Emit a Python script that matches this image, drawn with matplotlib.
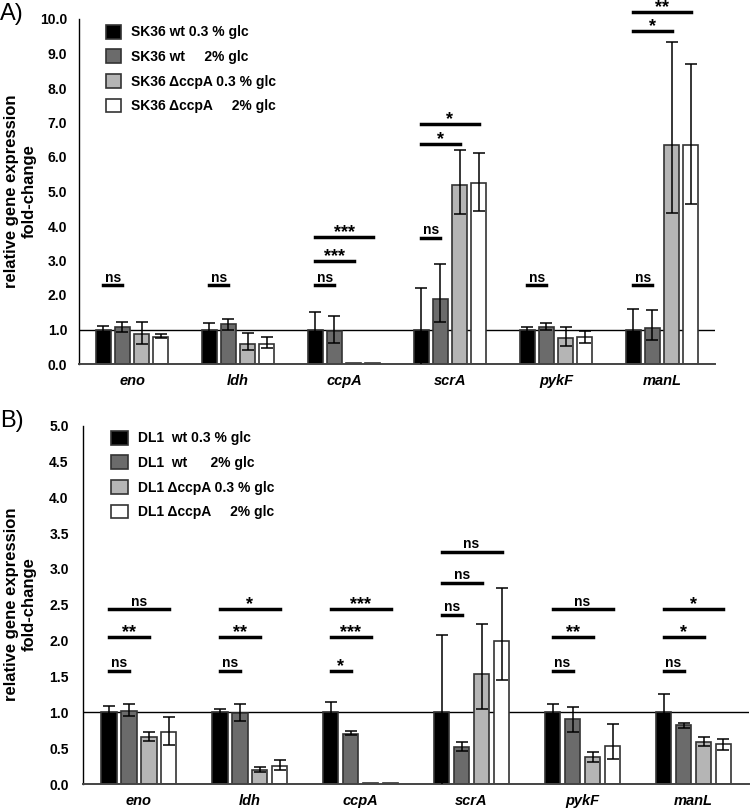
import matplotlib
matplotlib.use("Agg")
import matplotlib.pyplot as plt
import numpy as np

plt.rcParams['font.family'] = ['Liberation Sans', 'DejaVu Sans']

genes = ['eno', 'ldh', 'ccpA', 'scrA', 'pykF', 'manL']

# panel A: SK36, values and lower / upper error
a_labels = ['SK36 wt 0.3 % glc', 'SK36 wt     2% glc',
            'SK36 \u0394ccpA 0.3 % glc', 'SK36 \u0394ccpA     2% glc']
a_wt03 = [1.0, 1.0, 1.0, 1.0, 1.0, 1.0]
a_wt03_err = [0.10, 0.18, 0.51, 1.21, 0.07, 0.60]
a_wt2 = [1.07, 1.15, 0.96, 1.89, 1.07, 1.04]
a_wt2_lo = [0.13, 0.15, 0.35, 0.67, 0.09, 0.34]
a_wt2_hi = [0.16, 0.16, 0.43, 1.02, 0.13, 0.53]
a_dc03 = [0.87, 0.58, 0.02, 5.19, 0.75, 6.36]
a_dc03_lo = [0.30, 0.17, 0.0, 0.85, 0.22, 1.99]
a_dc03_hi = [0.36, 0.32, 0.0, 1.02, 0.32, 2.98]
a_dc2 = [0.79, 0.58, 0.02, 5.24, 0.79, 6.34]
a_dc2_lo = [0.03, 0.13, 0.0, 0.80, 0.17, 1.70]
a_dc2_hi = [0.08, 0.21, 0.0, 0.89, 0.17, 2.35]
# (gene, compared bar, height, label)
a_sig = [(0, 1, 2.28, 'ns'), (1, 1, 2.28, 'ns'), (2, 1, 2.28, 'ns'),
         (2, 2, 3.00, '***'), (2, 3, 3.69, '***'), (3, 1, 3.66, 'ns'),
         (3, 2, 6.38, '*'), (3, 3, 6.96, '*'), (4, 1, 2.28, 'ns'),
         (5, 1, 2.28, 'ns'), (5, 2, 9.66, '*'), (5, 3, 10.2, '**')]

# panel B: DL1
b_labels = ['DL1  wt 0.3 % glc', 'DL1  wt      2% glc',
            'DL1 \u0394ccpA 0.3 % glc', 'DL1 \u0394ccpA     2% glc']
b_wt03 = [1.0, 1.0, 1.0, 1.0, 1.0, 1.0]
b_wt03_err = [0.09, 0.04, 0.14, 1.08, 0.11, 0.26]
b_wt2 = [1.02, 0.99, 0.70, 0.52, 0.90, 0.82]
b_wt2_lo = [0.07, 0.11, 0.02, 0.06, 0.17, 0.035]
b_wt2_hi = [0.09, 0.12, 0.035, 0.06, 0.18, 0.035]
b_dc03 = [0.66, 0.20, 0.02, 1.53, 0.37, 0.58]
b_dc03_lo = [0.06, 0.03, 0.0, 0.49, 0.07, 0.05]
b_dc03_hi = [0.06, 0.04, 0.0, 0.70, 0.08, 0.08]
b_dc2 = [0.72, 0.25, 0.02, 2.00, 0.53, 0.56]
b_dc2_lo = [0.17, 0.06, 0.0, 0.55, 0.18, 0.09]
b_dc2_hi = [0.22, 0.08, 0.0, 0.73, 0.31, 0.07]
b_sig = [(0, 1, 1.58, 'ns'), (0, 2, 2.05, '**'), (0, 3, 2.44, 'ns'),
         (1, 1, 1.58, 'ns'), (1, 2, 2.05, '**'), (1, 3, 2.44, '*'),
         (2, 1, 1.58, '*'), (2, 2, 2.05, '***'), (2, 3, 2.44, '***'),
         (3, 1, 2.36, 'ns'), (3, 2, 2.81, 'ns'), (3, 3, 3.24, 'ns'),
         (4, 1, 1.58, 'ns'), (4, 2, 2.05, '**'), (4, 3, 2.44, 'ns'),
         (5, 1, 1.58, 'ns'), (5, 2, 2.05, '*'), (5, 3, 2.44, '*')]

fills = ['#000000', '#6b6b6b', '#b5b5b5', '#ffffff']
width = 0.14
step = 0.18


def draw_panel(ax, series, sig, labels, ymax, ystep, ypad, leg_xy, hlen):
    x = np.arange(len(genes))
    offs = (np.arange(4) - 1.5) * step
    handles = []
    for i, (vals, lo, hi) in enumerate(series):
        xs = x + offs[i]
        b = ax.bar(xs, vals, width, color=fills[i], edgecolor='#333333',
                   linewidth=1.2, zorder=2)
        handles.append(b)
        lo = np.array(lo)
        hi = np.array(hi)
        keep = hi > 0
        ax.errorbar(xs[keep], np.array(vals)[keep],
                    yerr=[lo[keep], hi[keep]], fmt='none', ecolor='black',
                    elinewidth=1.1, capsize=4.5, capthick=1.1, zorder=3)
    ax.axhline(1.0, color='black', lw=1.0, zorder=1)

    for g, j, y, lab in sig:
        x0 = g + offs[0]
        x1 = g + offs[j]
        ax.plot([x0, x1], [y, y], color='black', lw=2.5,
                solid_capstyle='projecting', clip_on=False, zorder=4)
        if lab == 'ns':
            ax.annotate(lab, xy=((x0 + x1) / 2, y), xytext=(0, 2.4),
                        textcoords='offset points', ha='center',
                        va='baseline', fontsize=10, fontweight='bold',
                        annotation_clip=False)
        else:
            ax.annotate(lab, xy=((x0 + x1) / 2, y), xytext=(0, -0.3),
                        textcoords='offset points', ha='center',
                        va='baseline', fontsize=13, fontweight='bold',
                        annotation_clip=False)

    ax.set_xlim(-0.5, len(genes) - 0.5)
    ax.set_ylim(0, ymax)
    ax.set_yticks(np.arange(0, ymax + ystep / 2, ystep))
    ax.set_yticklabels(['%.1f' % v for v in np.arange(0, ymax + ystep / 2, ystep)],
                       fontsize=10, fontweight='bold')
    ax.set_xticks(x)
    ax.set_xticklabels(genes, fontsize=10.5, fontweight='bold', fontstyle='italic')
    ax.tick_params(axis='y', length=0, pad=ypad)
    ax.tick_params(axis='x', length=0, pad=7)
    for s in ['top', 'right']:
        ax.spines[s].set_visible(False)
    ax.spines['left'].set_linewidth(1.0)
    ax.spines['bottom'].set_linewidth(1.4)
    ax.spines['bottom'].set_color('#444444')

    leg = ax.legend(handles, labels, loc='upper left', bbox_to_anchor=leg_xy,
                    frameon=False, borderpad=0, borderaxespad=0,
                    handlelength=hlen, handleheight=1.15, handletextpad=0.72,
                    labelspacing=0.72, prop={'size': 10, 'weight': 'bold'})
    return leg


fig = plt.figure(figsize=(7.5, 8.09), dpi=100)
axA = fig.add_axes([79 / 750, 445 / 809, 636 / 750, 345 / 809])
axB = fig.add_axes([83.3 / 750, 25 / 809, 665.7 / 750, 358.5 / 809])

draw_panel(axA,
           [(a_wt03, a_wt03_err, a_wt03_err), (a_wt2, a_wt2_lo, a_wt2_hi),
            (a_dc03, a_dc03_lo, a_dc03_hi), (a_dc2, a_dc2_lo, a_dc2_hi)],
           a_sig, a_labels, 10.0, 1.0, 8.5, (0.0425, 0.983), 1.08)
draw_panel(axB,
           [(b_wt03, b_wt03_err, b_wt03_err), (b_wt2, b_wt2_lo, b_wt2_hi),
            (b_dc03, b_dc03_lo, b_dc03_hi), (b_dc2, b_dc2_lo, b_dc2_hi)],
           b_sig, b_labels, 5.0, 0.5, 10.5, (0.0416, 0.985), 1.22)

ylab = 'relative gene expression\nfold-change'
fig.text(20.5 / 750, 1 - 191.5 / 809, ylab, rotation=90, ha='center',
         va='center', fontsize=12, fontweight='bold', multialignment='center')
fig.text(20.5 / 750, 1 - 604.5 / 809, ylab, rotation=90, ha='center',
         va='center', fontsize=12, fontweight='bold', multialignment='center')
fig.text(0.0, 1 - 3 / 809, 'A)', ha='left', va='top', fontsize=17)
fig.text(0.0, 1 - 410 / 809, 'B)', ha='left', va='top', fontsize=17)

fig.savefig('out.png', dpi=100)
